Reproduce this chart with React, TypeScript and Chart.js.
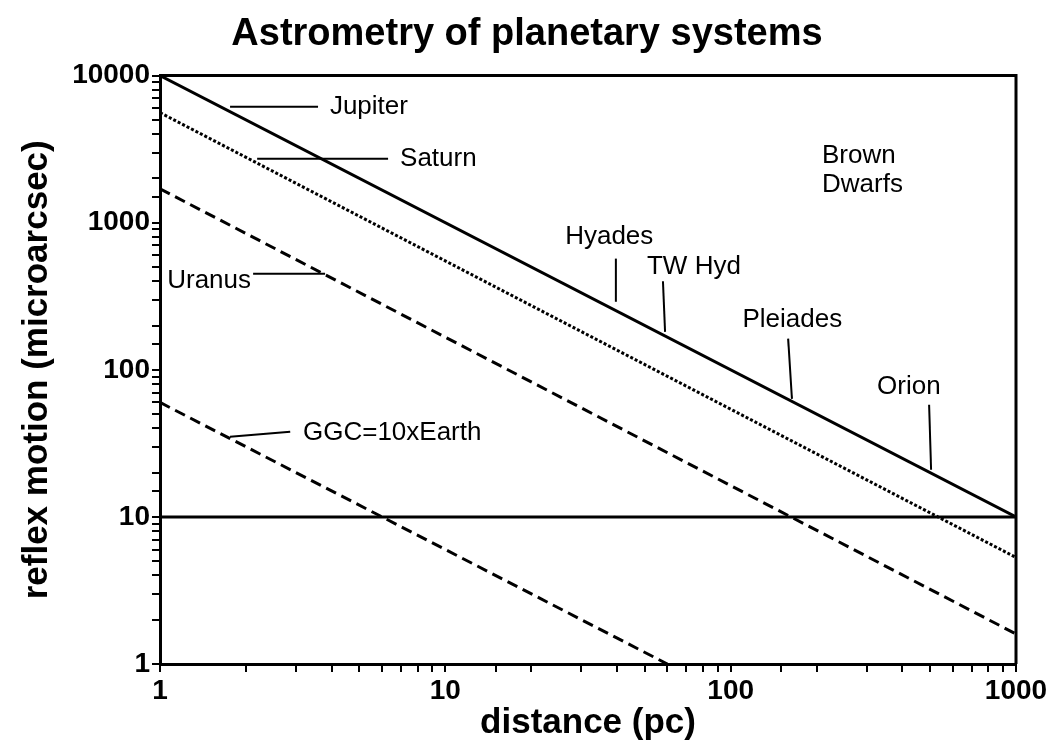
import React, { useEffect, useRef } from "react";
import { Chart, registerables } from "chart.js";

Chart.register(...registerables);

// ---- data (distance in pc, reflex motion in microarcsec) ----
const distance = [1, 1000];
const jupiter = [10000, 10];
const saturn = [5600, 5.3];
const uranus = [1700, 1.6];
const ggcDistance = [1, 60];
const ggc = [60, 1];
const threshold = [10, 10];

const xTickLabels = ["1", "10", "100", "1000"];
const yTickLabels = ["1", "10", "100", "1000", "10000"];

// ---- annotation texts (data coordinates) ----
const noteText = ["Jupiter", "Saturn", "Uranus", "GGC=10xEarth", "Hyades", "TW Hyd", "Pleiades", "Orion", "Brown", "Dwarfs"];
const noteX = [3.94, 6.94, 1.06, 3.17, 26.3, 50.9, 110, 326, 209, 209];
const noteY = [6150, 2720, 400, 37.3, 800, 500, 219, 76.6, 2857, 1815];

// leader lines (data coordinates)
const leadX1 = [1.76, 2.19, 2.12, 1.76, 39.6, 57.9, 159, 496];
const leadY1 = [6150, 2720, 450, 35, 570, 400, 163, 57.8];
const leadX2 = [3.58, 6.3, 3.79, 2.86, 39.6, 58.9, 164, 504];
const leadY2 = [6150, 2720, 450, 37.9, 290, 181, 63.5, 20.9];

const pts = (xs: number[], ys: number[]) => xs.map((x, i) => ({ x, y: ys[i] }));

const framePlugin = {
  id: "frame",
  afterDraw(chart: any) {
    const { ctx, chartArea } = chart;
    ctx.save();
    ctx.strokeStyle = "#000";
    ctx.lineWidth = 3;
    ctx.beginPath();
    ctx.moveTo(chartArea.left, chartArea.top);
    ctx.lineTo(chartArea.right, chartArea.top);
    ctx.lineTo(chartArea.right, chartArea.bottom);
    ctx.stroke();
    ctx.restore();
  },
};

const notesPlugin = {
  id: "notes",
  afterDatasetsDraw(chart: any) {
    const { ctx } = chart;
    const xs = chart.scales.x;
    const ys = chart.scales.y;
    ctx.save();
    ctx.strokeStyle = "#000";
    ctx.lineWidth = 2;
    for (let i = 0; i < leadX1.length; i++) {
      ctx.beginPath();
      ctx.moveTo(xs.getPixelForValue(leadX1[i]), ys.getPixelForValue(leadY1[i]));
      ctx.lineTo(xs.getPixelForValue(leadX2[i]), ys.getPixelForValue(leadY2[i]));
      ctx.stroke();
    }
    ctx.fillStyle = "#000";
    ctx.font = "26px 'Liberation Sans', Arial, sans-serif";
    ctx.textAlign = "left";
    ctx.textBaseline = "middle";
    for (let i = 0; i < noteText.length; i++) {
      ctx.fillText(noteText[i], xs.getPixelForValue(noteX[i]), ys.getPixelForValue(noteY[i]));
    }
    ctx.restore();
  },
};

export default function App() {
  const ref = useRef<HTMLCanvasElement | null>(null);

  useEffect(() => {
    if (!ref.current) return;
    const tickFont = { family: "'Liberation Sans', Arial, sans-serif", size: 28, weight: "bold" as const };
    const chart = new Chart(ref.current, {
      type: "line",
      data: {
        datasets: [
          { label: "Jupiter", data: pts(distance, jupiter), borderColor: "#000", borderWidth: 3, pointRadius: 0 },
          { label: "Saturn", data: pts(distance, saturn), borderColor: "#000", borderWidth: 3, borderDash: [3, 2], pointRadius: 0 },
          { label: "Uranus", data: pts(distance, uranus), borderColor: "#000", borderWidth: 3, borderDash: [11, 6], pointRadius: 0 },
          { label: "GGC=10xEarth", data: pts(ggcDistance, ggc), borderColor: "#000", borderWidth: 3, borderDash: [11, 6], pointRadius: 0 },
          { label: "10 microarcsec", data: pts(distance, threshold), borderColor: "#000", borderWidth: 3, pointRadius: 0 },
        ],
      },
      options: {
        animation: false,
        responsive: true,
        maintainAspectRatio: false,
        layout: { padding: { left: 38, right: 38, top: 0, bottom: 0 } },
        plugins: {
          legend: { display: false },
          tooltip: { enabled: false },
          title: {
            display: true,
            text: "Astrometry of planetary systems",
            color: "#000",
            font: { family: "'Liberation Sans', Arial, sans-serif", size: 38, weight: "bold", lineHeight: 1.2 },
            padding: { top: 12, bottom: 18 },
          },
        },
        scales: {
          x: {
            type: "logarithmic",
            min: 1,
            max: 1000,
            afterFit: (s: any) => { s.height = 90; },
            border: { display: true, color: "#000", width: 3 },
            grid: { drawOnChartArea: false, drawTicks: true, tickLength: 8, color: "#000", lineWidth: 2 },
            ticks: {
              autoSkip: false,
              maxRotation: 0,
              padding: 2,
              color: "#000",
              font: tickFont,
              callback: (v: any) => (xTickLabels.includes(String(v)) ? String(v) : ""),
            },
            title: {
              display: true,
              text: "distance (pc)",
              color: "#000",
              font: { family: "'Liberation Sans', Arial, sans-serif", size: 35, weight: "bold", lineHeight: 1.2 },
              padding: { top: 0, bottom: 10 },
            },
          },
          y: {
            type: "logarithmic",
            min: 1,
            max: 10000,
            afterFit: (s: any) => { s.width = 122; },
            border: { display: true, color: "#000", width: 3 },
            grid: { drawOnChartArea: false, drawTicks: true, tickLength: 8, color: "#000", lineWidth: 2 },
            ticks: {
              autoSkip: false,
              padding: 2,
              color: "#000",
              font: tickFont,
              callback: (v: any) => (yTickLabels.includes(String(v)) ? String(v) : ""),
            },
            title: {
              display: true,
              text: "reflex motion (microarcsec)",
              color: "#000",
              font: { family: "'Liberation Sans', Arial, sans-serif", size: 35, weight: "bold", lineHeight: 1.2 },
              padding: { top: -22, bottom: 0 },
            },
          },
        },
      },
      plugins: [framePlugin, notesPlugin],
    } as any);
    return () => chart.destroy();
  }, []);

  return (
    <div style={{ position: "absolute", left: 0, top: 0, width: 1054, height: 754, background: "#fff" }}>
      <canvas ref={ref} />
    </div>
  );
}
